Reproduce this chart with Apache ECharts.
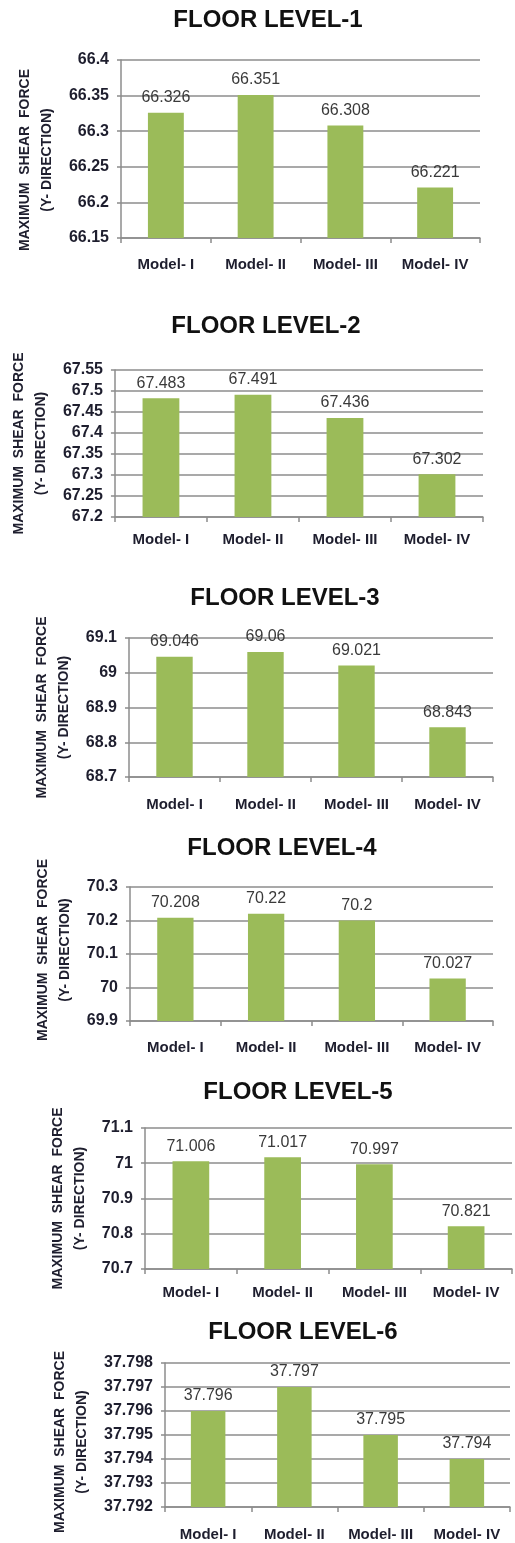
<!DOCTYPE html>
<html>
<head>
<meta charset="utf-8">
<script src="https://cdn.jsdelivr.net/npm/echarts@6/dist/echarts.min.js"></script>
<style>
html,body{margin:0;padding:0;background:#fff;}
#c{width:515px;height:1543px;}
</style>
</head>
<body>
<div id="c"></div>
<script>
// ---- data ----
const categories = ['Model- I', 'Model- II', 'Model- III', 'Model- IV'];
const titles = ['FLOOR LEVEL-1', 'FLOOR LEVEL-2', 'FLOOR LEVEL-3', 'FLOOR LEVEL-4', 'FLOOR LEVEL-5', 'FLOOR LEVEL-6'];
const yAxisName = 'MAXIMUM  SHEAR  FORCE\n(Y- DIRECTION)';
const level1 = [66.326, 66.351, 66.308, 66.221];
const level2 = [67.483, 67.491, 67.436, 67.302];
const level3 = [69.046, 69.06, 69.021, 68.843];
const level4 = [70.208, 70.22, 70.2, 70.027];
const level5 = [71.006, 71.017, 70.997, 70.821];
const level6 = [37.796, 37.797, 37.795, 37.794];
const yMin = [66.15, 67.2, 68.7, 69.9, 70.7, 37.792];
const yMax = [66.4, 67.55, 69.1, 70.3, 71.1, 37.798];
const yStep = [0.05, 0.05, 0.1, 0.1, 0.1, 0.001];
const levels = [level1, level2, level3, level4, level5, level6];

// ---- layout (positions only) ----
const grids = [
  {left: 121, right: 35, top: 60, height: 178},
  {left: 114, right: 32, top: 370, height: 147},
  {left: 129, right: 22, top: 638, height: 139},
  {left: 130, right: 22, top: 887, height: 134},
  {left: 145, right: 3, top: 1128, height: 141},
  {left: 165, right: 5, top: 1363, height: 144}
];
const titlePos = [[268, 20], [266, 326], [285, 598], [282, 848], [298, 1092], [303, 1332]];
const nameGaps = [63, 60, 53, 49, 54, 62];
const namePad = [[0, 22, 0, 0], 0, 0, [0, 0, 0, 8], 0, [0, 14, 0, 0]];
const catMargins = [19, 15, 20, 19, 16, 20];

const textDark = '#1e1e2e';
const gridColor = '#8c8c8c';
const barColor = '#9bbb59';
const fontFam = '"Liberation Sans", Arial, sans-serif';

const option = {
  animation: false,
  backgroundColor: '#ffffff',
  title: titles.map((t, i) => ({
    text: t,
    left: titlePos[i][0],
    top: titlePos[i][1],
    padding: 0,
    textAlign: 'center',
    textVerticalAlign: 'middle',
    textStyle: {fontFamily: fontFam, fontWeight: 'bold', fontSize: 24, color: '#111111'}
  })),
  grid: grids.map(g => Object.assign({containLabel: false}, g)),
  xAxis: grids.map((g, i) => ({
    type: 'category',
    gridIndex: i,
    data: categories,
    axisLine: {show: true, lineStyle: {color: gridColor, width: 1.5}},
    axisTick: {show: true, length: 5, lineStyle: {color: gridColor, width: 1.5}},
    axisLabel: {interval: 0, margin: catMargins[i], color: textDark, fontFamily: fontFam, fontWeight: 'bold', fontSize: 15}
  })),
  yAxis: grids.map((g, i) => ({
    type: 'value',
    gridIndex: i,
    min: yMin[i],
    max: yMax[i],
    interval: yStep[i],
    name: yAxisName,
    nameLocation: 'middle',
    nameRotate: 90,
    nameGap: nameGaps[i],
    nameTextStyle: {fontFamily: fontFam, fontWeight: 'bold', fontSize: 14, lineHeight: 22, color: textDark, padding: namePad[i]},
    axisLine: {show: true, lineStyle: {color: gridColor, width: 1.5}},
    axisTick: {show: true, length: 4, lineStyle: {color: gridColor, width: 1.5}},
    splitLine: {show: true, lineStyle: {color: gridColor, width: 1.5}},
    axisLabel: {margin: 12, color: textDark, fontFamily: fontFam, fontWeight: 'bold', fontSize: 16,
      formatter: v => i === 5 ? v.toFixed(3) : String(+v.toFixed(3))}
  })),
  series: levels.map((d, i) => ({
    type: 'bar',
    xAxisIndex: i,
    yAxisIndex: i,
    data: d,
    barWidth: '40%',
    itemStyle: {color: barColor},
    label: {show: true, position: 'top', distance: 7, color: '#3a3a3a', fontFamily: fontFam, fontSize: 16}
  }))
};

const chart = echarts.init(document.getElementById('c'), null, {renderer: 'canvas'});
chart.setOption(option);
</script>
</body>
</html>
